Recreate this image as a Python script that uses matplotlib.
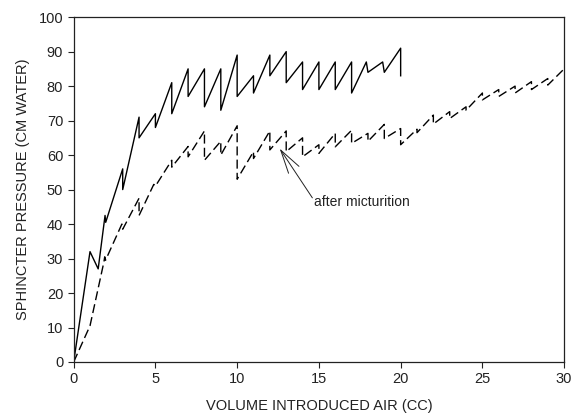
import matplotlib
matplotlib.use("Agg")
import matplotlib.pyplot as plt

plt.rcParams['font.family'] = ['Liberation Sans', 'DejaVu Sans']

# volume of introduced air (cc) and sphincter pressure (cm water)
before_x = [0, 1, 1.5, 1.92, 1.96, 3, 3, 4, 4, 5, 5, 6, 6, 7, 7, 8, 8, 9, 9, 10, 10,
            11, 11, 12, 12, 13, 13, 14, 14, 15, 15, 16, 16, 17, 17, 17.9, 18, 18.9, 19, 20, 20]
before_y = [0, 32, 27, 42.5, 40.5, 56, 50, 71, 65, 72, 68, 81, 72, 85, 77, 85, 74, 85, 73, 89, 77,
            83, 78, 89, 83, 90, 81, 87, 79, 87, 79, 87, 79, 87, 78, 87, 84, 87, 84, 91, 83]

after_x = [0, 1, 1.85, 1.9, 1.95, 2.95, 3.0, 4, 4, 4.9, 5, 6, 6, 7, 7, 8, 8, 9, 9, 10, 10,
           11, 11, 12, 12, 13, 13, 14, 14, 15, 15, 16, 16, 17, 17, 18, 18, 19, 19, 20, 20,
           21, 21, 22, 22, 23, 23, 24, 24, 25, 25, 26, 26, 27, 27, 28, 28, 29, 29, 30]
after_y = [0, 10.5, 29, 30.5, 29.5, 40, 38.5, 47.5, 42.5, 51.5, 51, 58.5, 56.5, 62.5, 59.5, 67, 58.5, 64, 60, 68.5, 53,
           61, 59, 67, 61.5, 67, 61, 65, 59.5, 63, 60.5, 66.3, 62.4, 67.2, 63.4, 66.3, 64, 68.9, 64.8, 67.7, 63,
           67.5, 66.5, 71.6, 69, 72.6, 70.6, 74, 73, 78, 76, 79, 77, 80, 78, 81.3, 79, 82.2, 80.3, 85]

fig = plt.figure(figsize=(5.71, 4.13), dpi=100)
ax = fig.add_axes([0.129, 0.1235, 0.859, 0.835])

ax.plot(before_x, before_y, color='black', lw=1.0)
ax.plot(after_x, after_y, color='black', lw=1.0, dashes=(6.5, 3))

# arrow from the label's corner up to the dashed curve
ax.annotate('', xy=(12.6, 61.9), xytext=(14.6, 47.6),
            arrowprops=dict(arrowstyle='->, head_length=1.7, head_width=0.45',
                            color='#222222', lw=0.7, shrinkA=0, shrinkB=0))
ax.text(14.68, 46.4, 'after micturition', fontsize=10, color='#222222',
        va='center', ha='left')

ax.set_xlim(0, 30)
ax.set_ylim(0, 100)
ax.set_xticks([0, 5, 10, 15, 20, 25, 30])
ax.set_yticks(range(0, 101, 10))
ax.tick_params(direction='out', length=4, width=0.8, labelsize=10.5, colors='#222222')
for s in ax.spines.values():
    s.set_linewidth(0.9)
    s.set_color('#222222')

ax.set_xlabel('VOLUME INTRODUCED AIR (CC)', fontsize=10.5, color='#222222', labelpad=9)
ax.set_ylabel('SPHINCTER PRESSURE (CM WATER)', fontsize=10.5, color='#222222', labelpad=6)

fig.savefig('out.png', dpi=100)
